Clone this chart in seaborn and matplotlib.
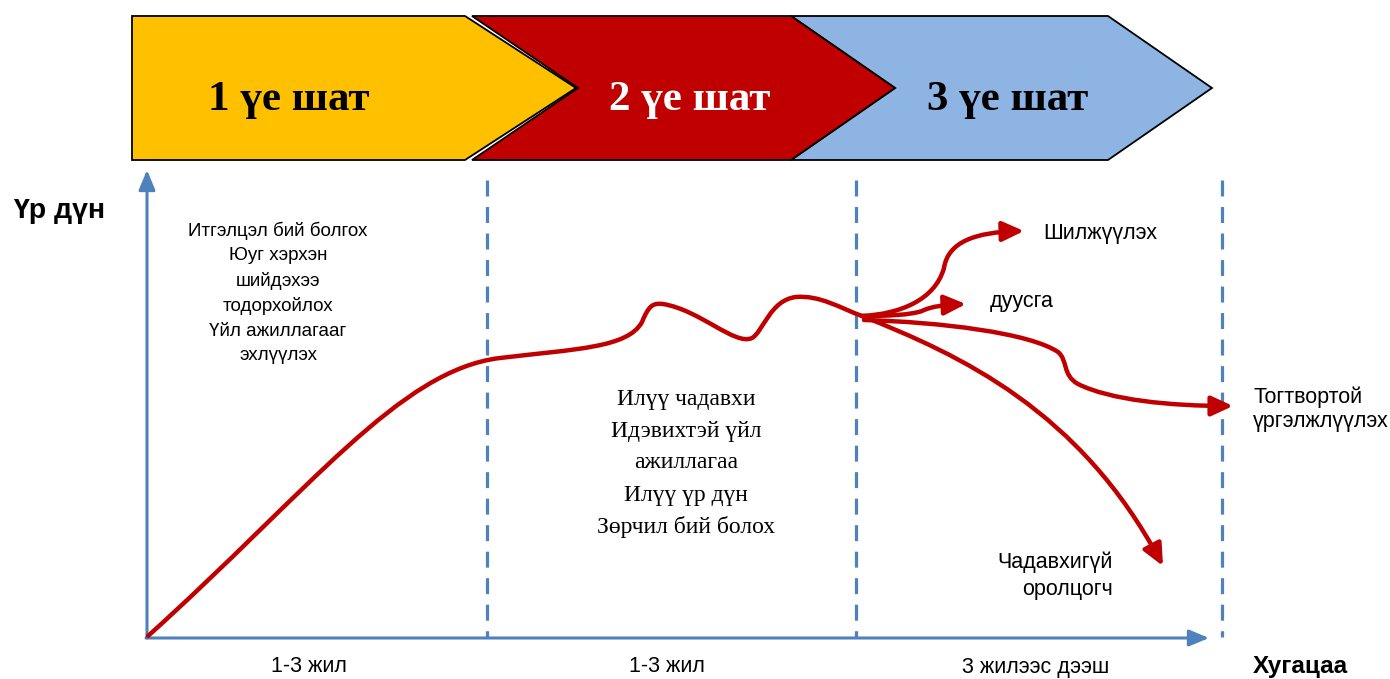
import matplotlib
matplotlib.use("Agg")
import matplotlib.pyplot as plt
import seaborn as sns
from matplotlib.path import Path
from matplotlib.patches import Polygon, FancyArrowPatch

# Stages (chevrons across the top)
stage_labels = ["1 үе шат", "2 үе шат", "3 үе шат"]
stage_colors = ["#FFC000", "#C00000", "#8DB4E2"]
stage_text_colors = ["black", "white", "black"]
stage_left = [132, 472, 791]
stage_shoulder = [465, 791, 1108]
stage_tip = [576, 895, 1212]
stage_notch = [None, 578, 895]
stage_text_x = [289, 690, 1008]

# Phase boundaries and period labels
phase_lines = [487, 856, 1222]
period_labels = ["1-3 жил", "1-3 жил", "3 жилээс дээш"]
period_x = [309, 667, 1036]

# Curve control points (cubic bezier: start, then c1, c2, end per segment)
main_curve = [(148, 636),
              (310, 490), (400, 370), (500, 358),
              (575, 349), (628, 348), (642, 322),
              (649, 305), (653, 303), (663, 304),
              (700, 310), (735, 346), (752, 338),
              (763, 332), (770, 300), (796, 297),
              (820, 295), (840, 308), (862, 316),
              (960, 355), (1080, 410), (1163, 566)]
branch_shift = [(862, 316),
                (900, 314), (935, 300), (944, 268),
                (948, 242), (975, 232), (1024, 231)]
branch_finish = [(862, 316),
                 (888, 316), (910, 315), (922, 311),
                 (932, 306), (945, 305), (966, 304)]
branch_sustain = [(864, 320),
                  (940, 322), (1030, 333), (1058, 352),
                  (1068, 360), (1062, 375), (1078, 384),
                  (1110, 400), (1170, 406), (1233, 406)]

left_lines = ["Итгэлцэл бий болгох", "Юуг хэрхэн", "шийдэхээ",
              "тодорхойлох", "Үйл ажиллагааг", "эхлүүлэх"]
mid_lines = ["Илүү чадавхи", "Идэвихтэй үйл", "ажиллагаа",
             "Илүү үр дүн", "Зөрчил бий болох"]

sns.set_theme(style="white")
plt.rcParams['font.family'] = ['Liberation Sans', 'DejaVu Sans']
plt.rcParams['text.color'] = 'black'

red = "#C00000"
blue = "#4F81BD"

fig = plt.figure(figsize=(13.9, 6.79), dpi=100)
ax = fig.add_axes([0, 0, 1, 1])
ax.set_xlim(0, 1390)
ax.set_ylim(679, 0)
ax.axis("off")

# chevrons, drawn right to left so each tip lies over the next notch
top, mid, bot = 16, 88, 160
for i in [2, 1, 0]:
    pts = [(stage_left[i], top), (stage_shoulder[i], top), (stage_tip[i], mid),
           (stage_shoulder[i], bot), (stage_left[i], bot)]
    if stage_notch[i] is not None:
        pts.append((stage_notch[i], mid))
    ax.add_patch(Polygon(pts, closed=True, facecolor=stage_colors[i],
                         edgecolor="black", lw=1.3, zorder=2 + (2 - i)))
    ax.text(stage_text_x[i], 100, stage_labels[i], ha="center", va="center",
            fontsize=31, fontweight="bold", family="Liberation Serif",
            color=stage_text_colors[i], zorder=6)

# dashed phase boundaries
ax.vlines(phase_lines, 180, 637, colors=blue, lw=2.3,
          linestyles=(0, (5, 3.3)), zorder=1)

# axes with arrow heads
axis_style = "-|>,head_length=12,head_width=5"
ax.add_patch(FancyArrowPatch((147, 638), (147, 170), arrowstyle=axis_style,
                             mutation_scale=1, color=blue, lw=2.2,
                             shrinkA=0, shrinkB=0, zorder=2))
ax.add_patch(FancyArrowPatch((146, 638), (1209, 638), arrowstyle=axis_style,
                             mutation_scale=1, color=blue, lw=2.2,
                             shrinkA=0, shrinkB=0, zorder=2))


def bezier(points):
    codes = [Path.MOVETO] + [Path.CURVE4] * (len(points) - 1)
    return Path(points, codes)


curve_style = "-|>,head_length=13,head_width=6"
for pts in [main_curve, branch_shift, branch_finish, branch_sustain]:
    ax.add_patch(FancyArrowPatch(path=bezier(pts), arrowstyle=curve_style,
                                 mutation_scale=1, color=red, lw=3.2,
                                 capstyle="round", joinstyle="round", zorder=4))

# labels
ax.text(59, 211, "Үр дүн", ha="center", va="center", fontsize=20.5,
        fontweight="bold")
ax.text(1253, 667, "Хугацаа", ha="left", va="center", fontsize=17.5,
        fontweight="bold")
for k, line in enumerate(left_lines):
    ax.text(278, 231 + 25 * k, line, ha="center", va="center", fontsize=13.5)
for k, line in enumerate(mid_lines):
    ax.text(686, 399 + 32 * k, line, ha="center", va="center", fontsize=17,
            family="Liberation Serif")
ax.text(1043, 233, "Шилжүүлэх", ha="left", va="center", fontsize=15.5)
ax.text(990, 302, "дуусга", ha="left", va="center", fontsize=15.5)
ax.text(1253, 397, "Тогтвортой", ha="left", va="center", fontsize=15.5)
ax.text(1253, 421, "үргэлжлүүлэх", ha="left", va="center", fontsize=15.5)
ax.text(1113, 562, "Чадавхигүй", ha="right", va="center", fontsize=15.5)
ax.text(1113, 590, "оролцогч", ha="right", va="center", fontsize=15.5)
for x, lab in zip(period_x, period_labels):
    ax.text(x, 667, lab, ha="center", va="center", fontsize=15.5)

fig.savefig("out.png", dpi=100)
